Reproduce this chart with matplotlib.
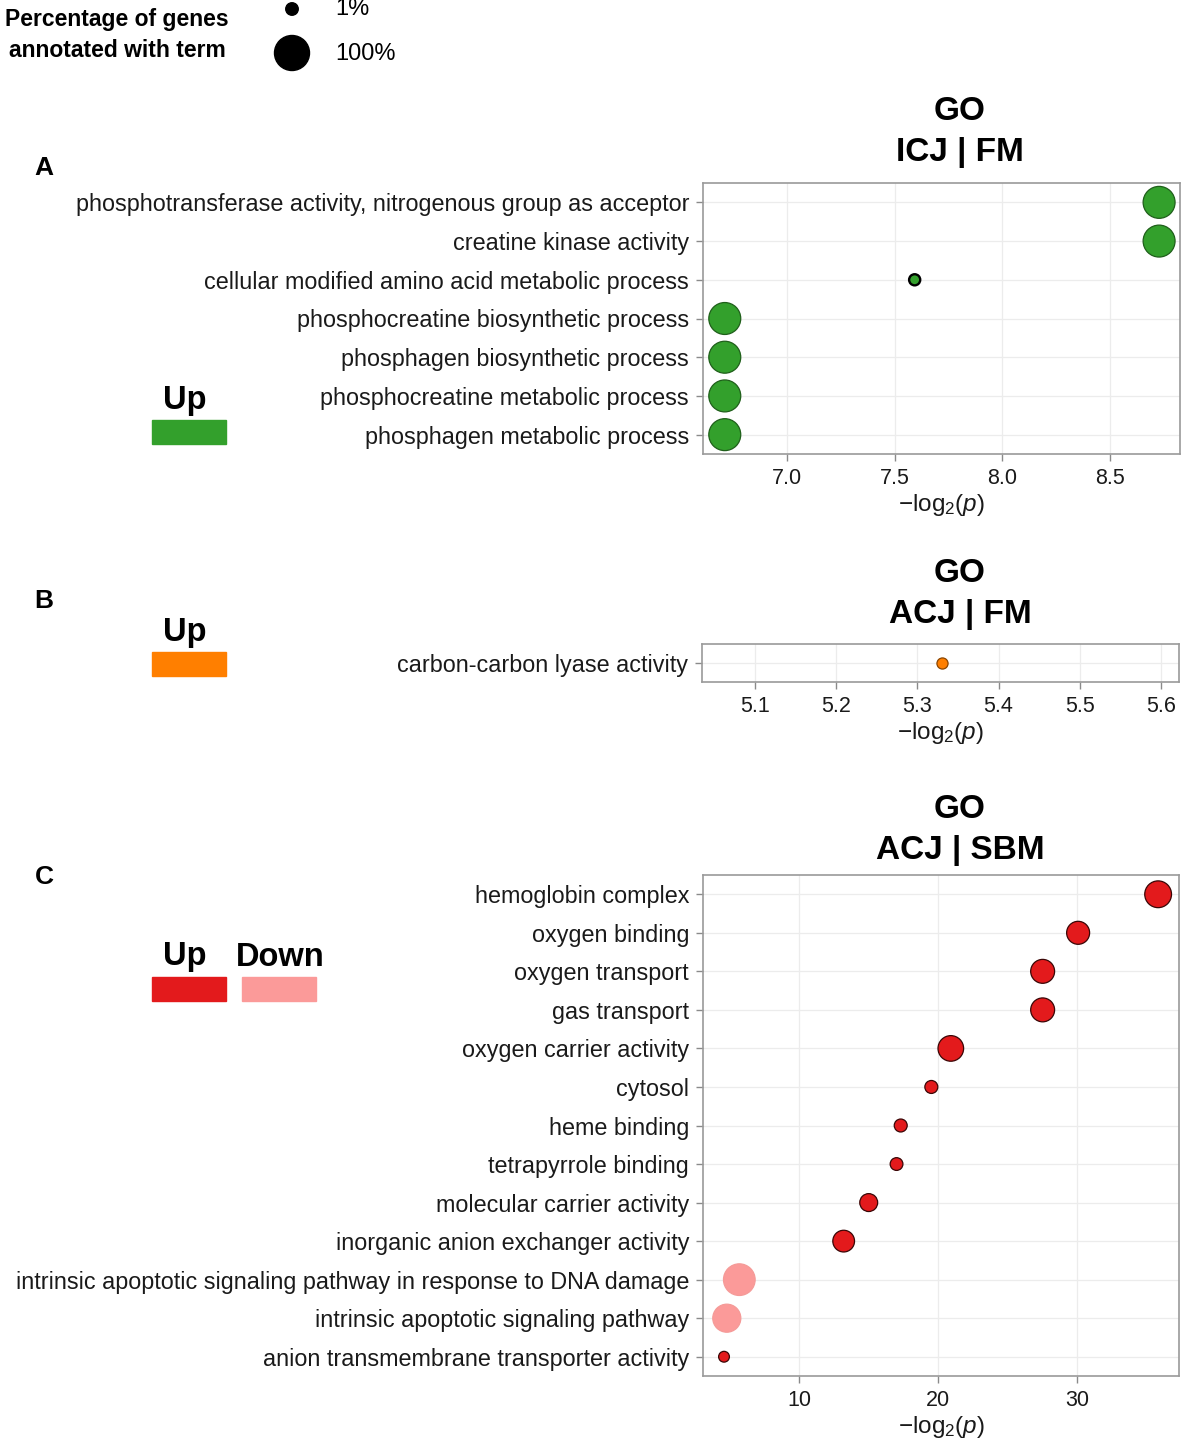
import numpy as np
import matplotlib
matplotlib.use("Agg")
import matplotlib.pyplot as plt
from matplotlib.patches import Rectangle

plt.rcParams['font.family'] = ['Liberation Sans', 'DejaVu Sans']
plt.rcParams['mathtext.fontset'] = 'custom'
plt.rcParams['mathtext.rm'] = 'Liberation Sans'
plt.rcParams['mathtext.it'] = 'Liberation Sans:italic'

# data
a_terms = ["phosphotransferase activity, nitrogenous group as acceptor",
           "creatine kinase activity",
           "cellular modified amino acid metabolic process",
           "phosphocreatine biosynthetic process",
           "phosphagen biosynthetic process",
           "phosphocreatine metabolic process",
           "phosphagen metabolic process"]
a_logp = [8.727, 8.727, 7.593, 6.712, 6.712, 6.712, 6.712]
a_pct = [77, 77, 0.2, 77, 77, 77, 77]
a_dir = ["Up"] * 7

b_terms = ["carbon-carbon lyase activity"]
b_logp = [5.330]
b_pct = [0.2]
b_dir = ["Up"]

c_terms = ["hemoglobin complex", "oxygen binding", "oxygen transport", "gas transport",
           "oxygen carrier activity", "cytosol", "heme binding", "tetrapyrrole binding",
           "molecular carrier activity", "inorganic anion exchanger activity",
           "intrinsic apoptotic signaling pathway in response to DNA damage",
           "intrinsic apoptotic signaling pathway",
           "anion transmembrane transporter activity"]
c_logp = [35.8, 30.05, 27.5, 27.5, 20.9, 19.5, 17.3, 17.0, 15.0, 13.2, 5.7, 4.8, 4.6]
c_pct = [45, 27, 31, 31, 39, 1.4, 1.4, 1.2, 10, 22, 75, 52, 0.1]
c_dir = ["Up"] * 10 + ["Down", "Down", "Up"]

legend_pct = [1, 100]
legend_labels = ["1%", "100%"]

W, H = 1181, 1443
fig = plt.figure(figsize=(W / 100, H / 100), dpi=100)

def dot_size(pct):
    d = 10 + 25 * np.sqrt(np.asarray(pct) / 100.0)  # diameter in px
    return (d * 0.72) ** 2

def px_axes(l, t, r, b):
    return fig.add_axes([l / W, 1 - b / H, (r - l) / W, (b - t) / H])

# overlay for the free-standing labels
ov = fig.add_axes([0, 0, 1, 1])
ov.set_xlim(0, W)
ov.set_ylim(H, 0)
ov.axis("off")

def panel(box, terms, logp, pct, dirs, cols, edges, xlim, xticks, fmt, ring=False):
    ax = px_axes(*box)
    y = np.arange(len(terms))
    fc = [cols[d] for d in dirs]
    ec = [("black" if (ring and p < 1) else edges[d]) for d, p in zip(dirs, pct)]
    lw = [(1.7 if (ring and p < 1) else 0.9) for p in pct]
    ax.scatter(logp, y, s=dot_size(pct), c=fc, edgecolors=ec, linewidths=lw,
               zorder=3, clip_on=False)
    ax.set_ylim(len(terms) - 0.5, -0.5)
    ax.set_yticks(y)
    ax.set_yticklabels(terms, fontsize=16.8)
    ax.set_xlim(*xlim)
    ax.set_xticks(xticks)
    ax.set_xticklabels([fmt % v for v in xticks], fontsize=15.5)
    ax.grid(color="#ececec", lw=0.9)
    ax.set_axisbelow(True)
    for s in ax.spines.values():
        s.set_color("#9a9a9a")
        s.set_linewidth(1.2)
    ax.tick_params(color="#8a8a8a", labelcolor="#1a1a1a", length=5, width=1, pad=5)
    ax.set_xlabel(r"$-\mathrm{log}_2(p)$", fontsize=17.5, color="#1a1a1a", labelpad=2)
    return ax

panel((703, 183, 1180, 454), a_terms, a_logp, a_pct, a_dir,
      {"Up": "#33a02c"}, {"Up": "#1f5f1a"}, (6.611, 8.824),
      [7.0, 7.5, 8.0, 8.5], "%.1f", ring=True)
panel((702, 644, 1179, 682), b_terms, b_logp, b_pct, b_dir,
      {"Up": "#ff7f00"}, {"Up": "#8a4500"}, (5.035, 5.622),
      [5.1, 5.2, 5.3, 5.4, 5.5, 5.6], "%.1f")
panel((703, 875, 1179, 1376), c_terms, c_logp, c_pct, c_dir,
      {"Up": "#e31a1c", "Down": "#fb9a99"}, {"Up": "#3a0606", "Down": "#f59a98"},
      (3.09, 37.3), [10, 20, 30], "%d")

# panel titles
for yy, sub in [(111, "ICJ | FM"), (573, "ACJ | FM"), (809, "ACJ | SBM")]:
    ov.text(960, yy, "GO", ha="center", va="center", fontsize=24, fontweight="bold")
    ov.text(960, yy + 41, sub, ha="center", va="center", fontsize=24, fontweight="bold")

# panel letters
for yy, letter in [(168, "A"), (601, "B"), (877, "C")]:
    ov.text(44, yy, letter, ha="center", va="center", fontsize=19, fontweight="bold")

# direction keys
keys = [(400, [("Up", "#33a02c", 152)]),
        (632, [("Up", "#ff7f00", 152)]),
        (957, [("Up", "#e31a1c", 152), ("Down", "#fb9a99", 242)])]
for yy, items in keys:
    for name, col, x0 in items:
        xc = x0 + 33 if name == "Up" else x0 + 38
        ov.text(xc, yy, name, ha="center", va="center", fontsize=23.5, fontweight="bold")
        ov.add_patch(Rectangle((x0, yy + 20), 74, 24, color=col))

# size legend
ov.text(117, 35, "Percentage of genes\nannotated with term", ha="center", va="center",
        fontsize=16.5, fontweight="bold", linespacing=1.45)
ov.scatter([292, 292], [9, 53], s=dot_size(legend_pct), c="black", clip_on=False)
for yy, lab in zip([9, 54], legend_labels):
    ov.text(335, yy, lab, ha="left", va="center", fontsize=17)

fig.savefig("out.png", dpi=100)
